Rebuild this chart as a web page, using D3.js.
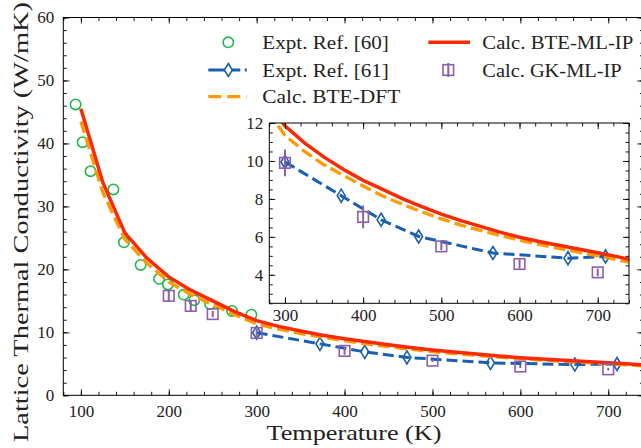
<!DOCTYPE html>
<html>
<head>
<meta charset="utf-8">
<script src="https://cdn.jsdelivr.net/npm/d3@7"></script>
<style>
  body { margin: 0; background: #fff; }
  svg text { font-family: 'Liberation Serif', 'DejaVu Serif', serif; }
</style>
</head>
<body>
<div id="chart"></div>
<script>
// Expt. Ref. [60]
const exp60T = [94, 102, 111, 137, 149, 168, 189, 199, 217, 229, 247, 272, 294];
const exp60K = [46.2, 40.2, 35.6, 32.7, 24.3, 20.7, 18.5, 17.6, 16.0, 15.1, 14.5, 13.4, 12.8];

// Expt. Ref. [61]
const exp61T = [300, 372, 423, 471, 566, 662, 710];
const exp61K = [9.95, 8.17, 6.9, 6.02, 5.15, 4.88, 4.97];

// Calc. GK-ML-IP with error bars
const gkT = [200, 225, 250, 300, 400, 500, 600, 700];
const gkK = [15.8, 14.2, 12.9, 9.9, 7.05, 5.5, 4.57, 4.13];
const gkErr = [1.0, 0.8, 0.5, 0.7, 0.6, 0.2, 0.25, 0.2];

// Calc. curves
const calcT = [100, 125, 150, 175, 200, 225, 250, 275, 300, 325, 350, 375, 400, 425, 450, 475,
  500, 525, 550, 575, 600, 625, 650, 675, 700, 725, 740];
const bteMlK = [45.5, 33.8, 25.8, 21.8, 18.8, 16.7, 15.0, 13.3, 11.85, 10.95, 10.2, 9.55, 8.98,
  8.5, 8.02, 7.6, 7.2, 6.86, 6.55, 6.25, 5.98, 5.76, 5.56, 5.36, 5.16, 4.96, 4.82];
const bteDftK = [43.5, 32.2, 24.8, 21.0, 18.0, 16.0, 14.4, 12.8, 11.35, 10.5, 9.8, 9.24, 8.68,
  8.15, 7.72, 7.32, 6.95, 6.62, 6.34, 6.08, 5.82, 5.6, 5.4, 5.2, 5.0, 4.8, 4.67];

const mainXTicks = [100, 200, 300, 400, 500, 600, 700];
const mainYTicks = [0, 10, 20, 30, 40, 50, 60];
const insetXTicks = [300, 400, 500, 600, 700];
const insetYTicks = [4, 6, 8, 10, 12];

const colors = {
  green: '#1fb84a', blue: '#1a5fb0', orange: '#ff9a00', red: '#fa2a05', purple: '#8c5fa8'
};

const zip = (xs, ys) => xs.map((v, i) => ({ t: v, k: ys[i] }));

const svg = d3.select('#chart').append('svg')
  .attr('width', 641).attr('height', 448);

// draw ticks on all 4 sides (inward) plus the frame
const drawFrame = (g, x, y, o) => {
  const w = x.range()[1] - x.range()[0];
  const h = y.range()[0] - y.range()[1];
  const xMinor = d3.range(o.xMinor[0], o.xMinor[1] + 1e-9, o.xMinor[2]);
  const yMinor = d3.range(o.yMinor[0], o.yMinor[1] + 1e-9, o.yMinor[2]);

  const style = (sel) => {
    sel.select('.domain').remove();
    sel.selectAll('line').attr('stroke', '#000').attr('stroke-width', 0.9);
    sel.selectAll('text').attr('fill', '#222').style('font-size', '17px');
  };

  g.append('g').attr('transform', `translate(0,${y.range()[0]})`)
    .call(d3.axisBottom(x).tickValues(o.xTicks).tickSize(-6).tickPadding(o.xPad).tickFormat(d3.format('d')))
    .call(style);
  g.append('g').attr('transform', `translate(0,${y.range()[0]})`)
    .call(d3.axisBottom(x).tickValues(xMinor).tickSize(-3.5).tickFormat(''))
    .call(style);
  g.append('g').attr('transform', `translate(0,${y.range()[1]})`)
    .call(d3.axisTop(x).tickValues(o.xTicks).tickSize(-6).tickFormat(''))
    .call(style);
  g.append('g').attr('transform', `translate(0,${y.range()[1]})`)
    .call(d3.axisTop(x).tickValues(xMinor).tickSize(-3.5).tickFormat(''))
    .call(style);

  g.append('g').attr('transform', `translate(${x.range()[0]},0)`)
    .call(d3.axisLeft(y).tickValues(o.yTicks).tickSize(-6).tickPadding(o.yPad).tickFormat(d3.format('d')))
    .call(style);
  g.append('g').attr('transform', `translate(${x.range()[0]},0)`)
    .call(d3.axisLeft(y).tickValues(yMinor).tickSize(-3.5).tickFormat(''))
    .call(style);
  g.append('g').attr('transform', `translate(${x.range()[1]},0)`)
    .call(d3.axisRight(y).tickValues(o.yTicks).tickSize(-6).tickFormat(''))
    .call(style);
  g.append('g').attr('transform', `translate(${x.range()[1]},0)`)
    .call(d3.axisRight(y).tickValues(yMinor).tickSize(-3.5).tickFormat(''))
    .call(style);

  g.append('rect')
    .attr('x', x.range()[0]).attr('y', y.range()[1])
    .attr('width', w).attr('height', h)
    .attr('fill', 'none').attr('stroke', '#000').attr('stroke-width', 1);
};

const diamondPath = (cx, cy) =>
  `M${cx},${cy - 6.5}L${cx + 4},${cy}L${cx},${cy + 6.5}L${cx - 4},${cy}Z`;

// draw all the series into a panel
const drawSeries = (g, x, y, clipId) => {
  const w = x.range()[1] - x.range()[0];
  const h = y.range()[0] - y.range()[1];
  svg.append('clipPath').attr('id', clipId).append('rect')
    .attr('x', x.range()[0]).attr('y', y.range()[1]).attr('width', w).attr('height', h);

  const layer = g.append('g').attr('clip-path', `url(#${clipId})`);
  const line = d3.line().x((d) => x(d.t)).y((d) => y(d.k));

  layer.selectAll('circle.e60')
    .data(zip(exp60T, exp60K))
    .enter().append('circle')
    .attr('class', 'e60')
    .attr('cx', (d) => x(d.t)).attr('cy', (d) => y(d.k))
    .attr('r', 5.2)
    .attr('fill', 'none').attr('stroke', colors.green).attr('stroke-width', 1.6);

  layer.append('path')
    .datum(zip(exp61T, exp61K))
    .attr('fill', 'none').attr('stroke', colors.blue).attr('stroke-width', 3)
    .attr('stroke-dasharray', '11,5')
    .attr('d', line);

  layer.selectAll('path.e61')
    .data(zip(exp61T, exp61K))
    .enter().append('path')
    .attr('class', 'e61')
    .attr('d', (d) => diamondPath(x(d.t), y(d.k)))
    .attr('fill', 'none').attr('stroke', colors.blue).attr('stroke-width', 1.6);

  layer.append('path')
    .datum(zip(calcT, bteDftK))
    .attr('fill', 'none').attr('stroke', colors.orange).attr('stroke-width', 3.3)
    .attr('stroke-dasharray', '12,5')
    .attr('d', line);

  layer.append('path')
    .datum(zip(calcT, bteMlK))
    .attr('fill', 'none').attr('stroke', colors.red).attr('stroke-width', 3.5)
    .attr('d', line);

  const gk = gkT.map((t, i) => ({ t, k: gkK[i], e: gkErr[i] }));
  layer.selectAll('line.gkerr')
    .data(gk)
    .enter().append('line')
    .attr('class', 'gkerr')
    .attr('x1', (d) => x(d.t)).attr('x2', (d) => x(d.t))
    .attr('y1', (d) => y(d.k - d.e)).attr('y2', (d) => y(d.k + d.e))
    .attr('stroke', colors.purple).attr('stroke-width', 2);

  layer.selectAll('rect.gk')
    .data(gk)
    .enter().append('rect')
    .attr('class', 'gk')
    .attr('x', (d) => x(d.t) - 5.3).attr('y', (d) => y(d.k) - 5.3)
    .attr('width', 10.6).attr('height', 10.6)
    .attr('fill', 'none').attr('stroke', colors.purple).attr('stroke-width', 1.6);
};

// Main panel
const x = d3.scaleLinear().domain([80, 740]).range([63.3, 643.4]);
const y = d3.scaleLinear().domain([0, 60]).range([395.3, 17.5]);
const main = svg.append('g');
drawSeries(main, x, y, 'clipMain');
drawFrame(main, x, y, {
  xTicks: mainXTicks, yTicks: mainYTicks,
  xMinor: [80, 740, 20], yMinor: [0, 60, 2],
  xPad: 9.5, yPad: 9
});

// axis labels
const fit = (sel, len) => sel.attr('textLength', len).attr('lengthAdjust', 'spacingAndGlyphs');

svg.append('text')
  .attr('x', 354).attr('y', 440)
  .attr('text-anchor', 'middle')
  .attr('fill', '#222')
  .style('font-size', '21px')
  .text('Temperature (K)')
  .call(fit, 175);

svg.append('text')
  .attr('transform', 'translate(27.5,222) rotate(-90)')
  .attr('text-anchor', 'middle')
  .attr('fill', '#222')
  .style('font-size', '21px')
  .text('Lattice Thermal Conductivity (W/mK)')
  .call(fit, 440);

// Legend
const legend = svg.append('g');
const rows = [
  { label: 'Expt. Ref. [60]', type: 'circle', lx: 208.3, ty: 42.3, w: 126.6 },
  { label: 'Expt. Ref. [61]', type: 'blue', lx: 208.3, ty: 70, w: 126.6 },
  { label: 'Calc. BTE-DFT', type: 'orange', lx: 208.3, ty: 96.7, w: 138 },
  { label: 'Calc. BTE-ML-IP', type: 'red', lx: 428.3, ty: 42.3, w: 151 },
  { label: 'Calc. GK-ML-IP', type: 'square', lx: 428.3, ty: 70, w: 139.4 }
];
rows.forEach((r) => {
  const cx = r.lx + 20;
  if (r.type === 'circle') {
    legend.append('circle').attr('cx', cx).attr('cy', r.ty).attr('r', 5.2)
      .attr('fill', 'none').attr('stroke', colors.green).attr('stroke-width', 1.6);
  } else if (r.type === 'blue') {
    legend.append('line').attr('x1', r.lx).attr('x2', r.lx + 38.5).attr('y1', r.ty).attr('y2', r.ty)
      .attr('stroke', colors.blue).attr('stroke-width', 3).attr('stroke-dasharray', '32,4.5');
    legend.append('path').attr('d', diamondPath(cx, r.ty))
      .attr('fill', '#fff').attr('stroke', colors.blue).attr('stroke-width', 1.6);
  } else if (r.type === 'orange') {
    legend.append('line').attr('x1', r.lx).attr('x2', r.lx + 38.5).attr('y1', r.ty).attr('y2', r.ty)
      .attr('stroke', colors.orange).attr('stroke-width', 3.3).attr('stroke-dasharray', '13,6');
  } else if (r.type === 'red') {
    legend.append('line').attr('x1', r.lx).attr('x2', r.lx + 41.7).attr('y1', r.ty).attr('y2', r.ty)
      .attr('stroke', colors.red).attr('stroke-width', 3.5);
  } else {
    legend.append('line').attr('x1', cx).attr('x2', cx).attr('y1', r.ty - 7).attr('y2', r.ty + 7)
      .attr('stroke', colors.purple).attr('stroke-width', 2);
    legend.append('rect').attr('x', cx - 5.3).attr('y', r.ty - 5.3).attr('width', 10.6).attr('height', 10.6)
      .attr('fill', 'none').attr('stroke', colors.purple).attr('stroke-width', 1.6);
  }
  legend.append('text')
    .attr('x', r.lx + 54).attr('y', r.ty + 6.5)
    .attr('fill', '#222')
    .style('font-size', '18px')
    .text(r.label)
    .call(fit, r.w);
});

// Inset panel
const xi = d3.scaleLinear().domain([280, 740]).range([269.3, 629]);
const yi = d3.scaleLinear().domain([2.5, 12]).range([303.3, 123]);
const inset = svg.append('g');
inset.append('rect')
  .attr('x', 269.3).attr('y', 123).attr('width', 629 - 269.3).attr('height', 303.3 - 123)
  .attr('fill', '#fff');
drawSeries(inset, xi, yi, 'clipInset');
drawFrame(inset, xi, yi, {
  xTicks: insetXTicks, yTicks: insetYTicks,
  xMinor: [280, 740, 20], yMinor: [2.5, 12, 0.5],
  xPad: 5.3, yPad: 6
});
</script>
</body>
</html>
